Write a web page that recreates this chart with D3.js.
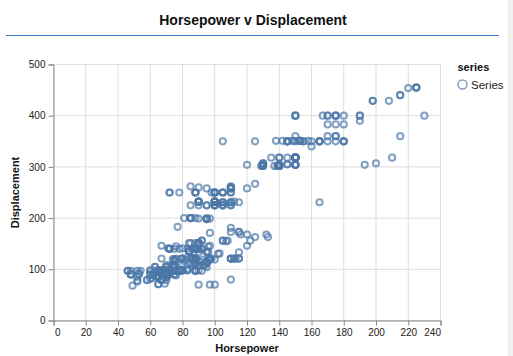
<!DOCTYPE html>
<html><head><meta charset="utf-8">
<script src="https://cdn.jsdelivr.net/npm/d3@7"></script>
<style>
body{margin:0;background:#fff;}
svg{display:block;font-family:"Liberation Sans",Arial,Helvetica,sans-serif;}
</style></head>
<body>
<svg id="c" width="513" height="356"></svg>
<script>
// Horsepower / Displacement pairs (cars dataset)
const horsepower = [130,165,150,150,140,198,220,215,225,190,115,165,153,175,175,170,160,140,150,225,95,95,97,85,88,46,87,90,95,113,90,215,200,210,193,88,90,95,100,105,100,88,100,165,175,153,150,180,170,175,110,72,100,88,86,90,70,76,65,69,60,70,95,80,54,90,86,165,175,150,153,150,208,155,160,190,97,150,130,140,150,112,76,87,69,86,92,97,80,88,175,150,145,137,150,198,150,158,150,215,225,175,105,100,100,88,95,46,150,167,170,180,100,88,72,94,90,85,107,90,145,230,49,75,91,112,150,110,122,180,95,100,100,67,80,65,75,100,110,105,140,150,150,140,150,83,67,78,52,61,75,75,75,97,93,67,95,105,72,72,170,145,150,148,110,105,110,95,110,110,129,75,83,100,78,96,71,97,97,70,90,95,88,98,115,53,86,81,92,79,83,140,150,120,152,100,105,81,90,52,60,70,53,100,78,110,95,71,70,75,72,102,150,88,108,120,180,145,130,150,68,80,58,96,70,145,110,145,130,110,105,100,98,180,170,190,149,78,88,75,89,63,83,67,78,97,110,110,48,66,52,70,60,110,140,139,105,95,85,88,100,90,105,85,110,120,145,165,139,140,68,95,97,75,95,105,85,97,103,125,115,133,71,68,115,85,88,90,110,130,129,138,135,155,142,125,150,71,65,80,80,77,125,71,90,70,70,65,69,90,115,115,90,76,60,70,65,90,88,90,90,78,90,75,92,75,65,105,65,48,48,67,67,67,67,62,132,100,88,72,84,84,92,110,84,58,64,60,67,65,62,68,63,65,65,74,75,75,100,74,80,76,116,120,110,105,88,85,88,88,88,85,84,90,92,74,68,68,63,70,88,75,70,67,67,67,110,85,92,112,96,84,90,86,52,84,79,82,48,110];
const displacement = [307,350,318,304,302,429,454,440,455,390,133,350,351,383,360,383,340,302,400,455,113,198,199,200,97,97,110,107,104,121,199,360,307,318,304,97,140,113,232,225,250,250,232,350,400,351,318,383,400,400,258,140,250,250,122,116,79,88,71,72,97,91,113,97.5,97,140,122,350,400,318,351,304,429,350,350,400,70,304,307,302,318,121,121,120,96,122,97,120,98,97,350,304,350,302,318,429,400,351,318,440,455,360,225,250,232,250,198,97,400,400,360,350,232,97,140,108,70,122,155,98,350,400,68,116,114,121,318,121,156,350,198,232,250,79,122,71,140,250,258,225,302,350,318,302,304,98,79,97,76,83,90,90,116,120,108,79,225,250,250,250,400,350,318,351,231,250,258,225,231,262,302,97,140,232,140,134,90,119,171,90,232,115,120,121,121,91,107,116,140,98,101,305,318,304,351,225,250,200,232,85,98,90,91,225,250,250,258,97,85,97,140,130,318,120,156,168,350,350,302,318,98,111,79,122,85,305,260,318,302,250,231,225,250,400,350,400,351,97,151,97,140,98,98,97,97,146,121,80,90,98,78,85,91,260,318,302,231,200,200,140,225,232,231,200,225,258,305,231,302,318,98,134,119,105,134,156,151,119,131,163,121,163,89,98,231,200,140,232,225,305,302,351,318,350,351,267,360,89,86,98,121,183,350,141,260,105,105,85,91,151,173,173,151,98,89,98,86,151,140,151,225,97,134,120,119,108,86,156,85,90,90,121,146,91,97,89,168,70,122,107,135,151,156,173,135,79,86,81,97,85,89,91,105,98,98,105,107,108,119,120,141,145,168,146,231,350,200,225,112,112,112,112,135,151,140,105,91,91,105,98,120,107,108,91,91,91,181,262,156,232,144,135,151,140,97,135,120,119,97,121];
const xTicks = [0,20,40,60,80,100,120,140,160,180,200,220,240];
const yTicks = [0,100,200,300,400,500];
const seriesNames = ["Series"];

const svg = d3.select("#c");
const color = "#4c78a8";
const L = 53.5, R = 440.5, T = 64.5, B = 320.5;
const x = d3.scaleLinear().domain([0,240]).range([L,R]);
const y = d3.scaleLinear().domain([0,500]).range([B,T]);

// page chrome
svg.append("text").attr("x",253).attr("y",25).attr("text-anchor","middle")
  .attr("font-size",14).attr("font-weight","bold").attr("fill","#111")
  .text("Horsepower v Displacement");
svg.append("line").attr("x1",6).attr("x2",499).attr("y1",35.5).attr("y2",35.5)
  .attr("stroke","#3b7bce").attr("stroke-width",1);
svg.append("rect").attr("x",508).attr("y",0).attr("width",5).attr("height",356)
  .attr("fill","#f1f1f1");
svg.append("line").attr("x1",508.5).attr("x2",508.5).attr("y1",0).attr("y2",356)
  .attr("stroke","#e8e8e8").attr("stroke-width",1);

// grid
const g = svg.append("g");
g.selectAll(".gx").data(xTicks).join("line")
  .attr("x1",d=>x(d)).attr("x2",d=>x(d)).attr("y1",T).attr("y2",B)
  .attr("stroke","#ddd");
g.selectAll(".gy").data(yTicks).join("line")
  .attr("y1",d=>y(d)).attr("y2",d=>y(d)).attr("x1",L).attr("x2",R)
  .attr("stroke","#ddd");

// axes
const xa = svg.append("g").attr("transform",`translate(0,${B})`)
  .call(d3.axisBottom(x).tickValues(xTicks).tickSize(5).tickPadding(3));
const ya = svg.append("g").attr("transform",`translate(${L},0)`)
  .call(d3.axisLeft(y).tickValues(yTicks).tickSize(5).tickPadding(3));
[xa,ya].forEach(a=>{
  a.selectAll("path").attr("stroke","#888");
  a.selectAll("line").attr("stroke","#888");
  a.selectAll("text").attr("font-size",10).attr("fill","#222")
    .attr("font-family","Liberation Sans,Arial,sans-serif");
});
xa.selectAll(".tick text").attr("text-anchor",(d,i)=> i===0?"start":(i===xTicks.length-1?"end":"middle"))
  .attr("dx",(d,i)=> i===0?1:0);

svg.append("text").attr("x",(L+R)/2).attr("y",352).attr("text-anchor","middle")
  .attr("font-size",11).attr("font-weight","bold").attr("fill","#111").text("Horsepower");
svg.append("text").attr("transform",`translate(19,${(T+B)/2}) rotate(-90)`).attr("text-anchor","middle")
  .attr("font-size",11).attr("font-weight","bold").attr("fill","#111").text("Displacement");

// points
const data = horsepower.map((h,i)=>({h, d: displacement[i]}));
svg.append("g").selectAll("circle").data(data).join("circle")
  .attr("cx",p=>x(p.h)).attr("cy",p=>y(p.d)).attr("r",3.1)
  .attr("fill","none").attr("stroke",color).attr("stroke-width",2).attr("opacity",0.7);

// legend
const lg = svg.append("g");
lg.append("text").attr("x",457.5).attr("y",71).attr("font-size",11).attr("font-weight","bold")
  .attr("fill","#111").text("series");
const li = lg.selectAll(".li").data(seriesNames).join("g")
  .attr("transform",(d,i)=>`translate(462.5,${84.5+i*16})`);
li.append("circle").attr("r",4.5).attr("fill","none").attr("stroke",color)
  .attr("stroke-width",1.5).attr("opacity",0.7);
li.append("text").attr("x",8.5).attr("y",4).attr("font-size",11.5).attr("fill","#222").text(d=>d);
</script>
</body></html>
